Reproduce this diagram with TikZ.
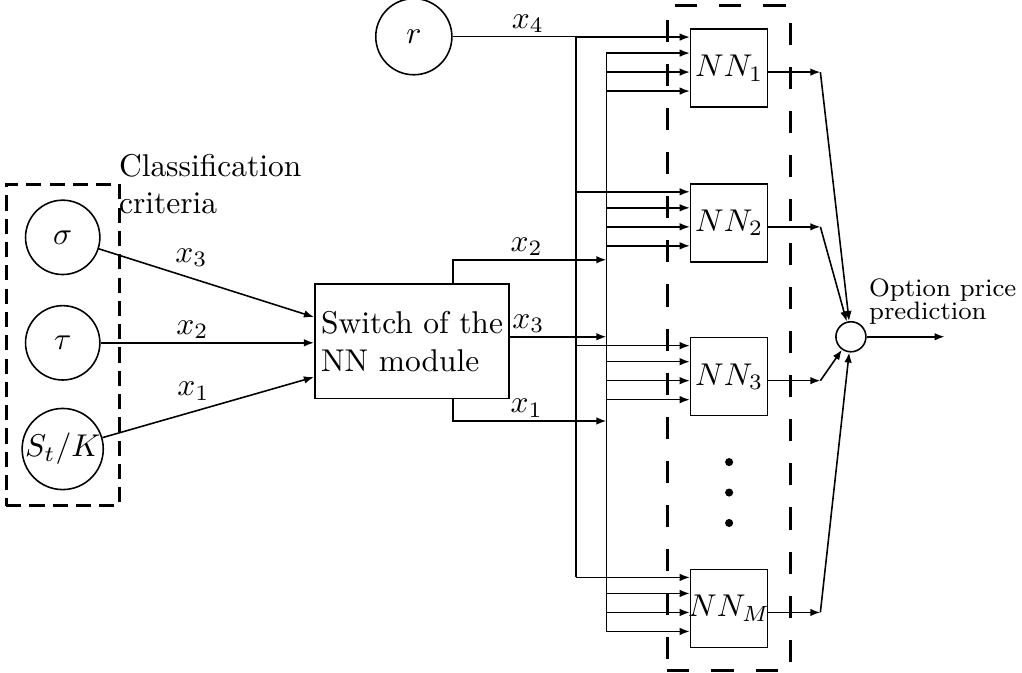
\documentclass[tikz,border=0pt]{standalone}
\usepackage{amsmath,amssymb}
\usetikzlibrary{arrows.meta,positioning,fit}

\begin{document}
\begin{tikzpicture}[
  line width=0.5pt,
  var/.style={draw, circle, minimum size=0.83cm, inner sep=0pt},
  net/.style={draw, minimum width=0.86cm, minimum height=0.87cm, inner sep=0pt},
  group/.style={draw, line width=1pt, dash pattern=on 4.8pt off 2.6pt},
  dot/.style={circle, fill, inner sep=0pt, minimum size=0.09cm},
  lab/.style={above, inner sep=1pt},
  >={Latex[length=3.2pt,width=2.4pt]}]
  \useasboundingbox (0,0) rectangle (11.41,7.51);
  % classification criteria
  \node[var] (sigma) at (0.70,4.86) {$\sigma$};
  \node[var, below=0.33cm of sigma] (tau) {$\tau$};
  \node[var, below=0.30cm of tau] (sk) {$S_t/K$};
  \node[group, fit=(sigma)(tau)(sk), inner sep=0.17cm] (crit) {};
  \node[anchor=north west, inner sep=0pt, align=left] (critlab) at (1.32,5.80) {Classification\\criteria};
  % switch and rate
  \node[draw, minimum width=2.14cm, minimum height=1.28cm, align=left, inner sep=2pt] (sw) at (4.60,3.70) {Switch of the\\NN module};
  \node[var, minimum size=0.85cm] (r) at (4.62,7.10) {$r$};
  \draw[->] (sigma) -- node[above, pos=0.43]{$x_3$} ([yshift=0.27cm]sw.west);
  \draw[->] (tau) -- node[lab, pos=0.43]{$x_2$} (sw.west |- tau);
  \draw[->] (sk) -- node[above, pos=0.43]{$x_1$} ([yshift=-0.40cm]sw.west);
  % NN modules
  \node[net] (nn1) at (8.14,6.75) {$NN_1$};
  \node[net, below=0.84cm of nn1] (nn2) {$NN_2$};
  \node[net, below=0.83cm of nn2] (nn3) {$NN_3$};
  \node[net, below=1.70cm of nn3] (nnm) {\makebox[0pt]{$NN_M$}};
  \node[group, dash pattern=on 7pt off 7pt, fit=(nn1)(nnm), inner sep=0.25cm] (bank) {};
  \foreach \p/\i in {0.3/1,0.5/2,0.7/3}
    \path (nn3.south) -- (nnm.north) node[dot, pos=\p] (dot\i) {};
  % combiner
  \node[draw, circle, minimum size=0.335cm, inner sep=0pt] (sum) at (9.50,3.75) {};
  \coordinate[right=0.87cm of sum] (out);
  \draw[->] (sum) -- (out);
  \node[anchor=south west, inner sep=0pt, align=left, font=\footnotesize] (predlab) at ([xshift=0.07cm]sum.north east) {Option price\\[-2pt]prediction};
  % buses
  \coordinate (bus1) at (6.43,0);
  \coordinate (bus2) at (6.77,0);
  \coordinate (s2) at (6.77,4.61);
  \coordinate (s3) at (6.77,3.75);
  \coordinate (s1) at (6.77,2.81);
  \foreach \n in {nn1,nn2,nn3,nnm} {
    \coordinate (i1\n) at ([yshift=0.346cm]\n.west);
    \coordinate (i2\n) at ([yshift=0.167cm]\n.west);
    \coordinate (i3\n) at ([yshift=-0.045cm]\n.west);
    \coordinate (i4\n) at ([yshift=-0.257cm]\n.west);
    \coordinate (o\n) at ([yshift=-0.045cm]\n.east);
  }
  \draw[->] ([xshift=0.46cm]sw.north) |- node[lab, pos=0.74]{$x_2$} (s2);
  \draw[->] (sw.east |- s3) -- node[lab, pos=0.19]{$x_3$} (s3);
  \draw[->] ([xshift=0.46cm]sw.south) |- node[lab, pos=0.74]{$x_1$} (s1);
  \draw (r) -- node[lab, pos=0.61]{$x_4$} (bus1 |- r);
  \draw (bus1 |- r) -- (bus1 |- i1nnm);
  \draw (bus2 |- i2nn1) -- (bus2 |- i4nnm);
  \foreach \n in {nn1,nn2,nn3,nnm} {
    \draw[->] (bus1 |- i1\n) -- (i1\n);
    \foreach \k in {2,3,4}
      \draw[->] (bus2 |- i\k\n) -- (i\k\n);
    \draw[->] (o\n) -- ++(0.58,0) coordinate (k\n);
    \draw[->] (k\n) -- (sum);
  }
\end{tikzpicture}
\end{document}
